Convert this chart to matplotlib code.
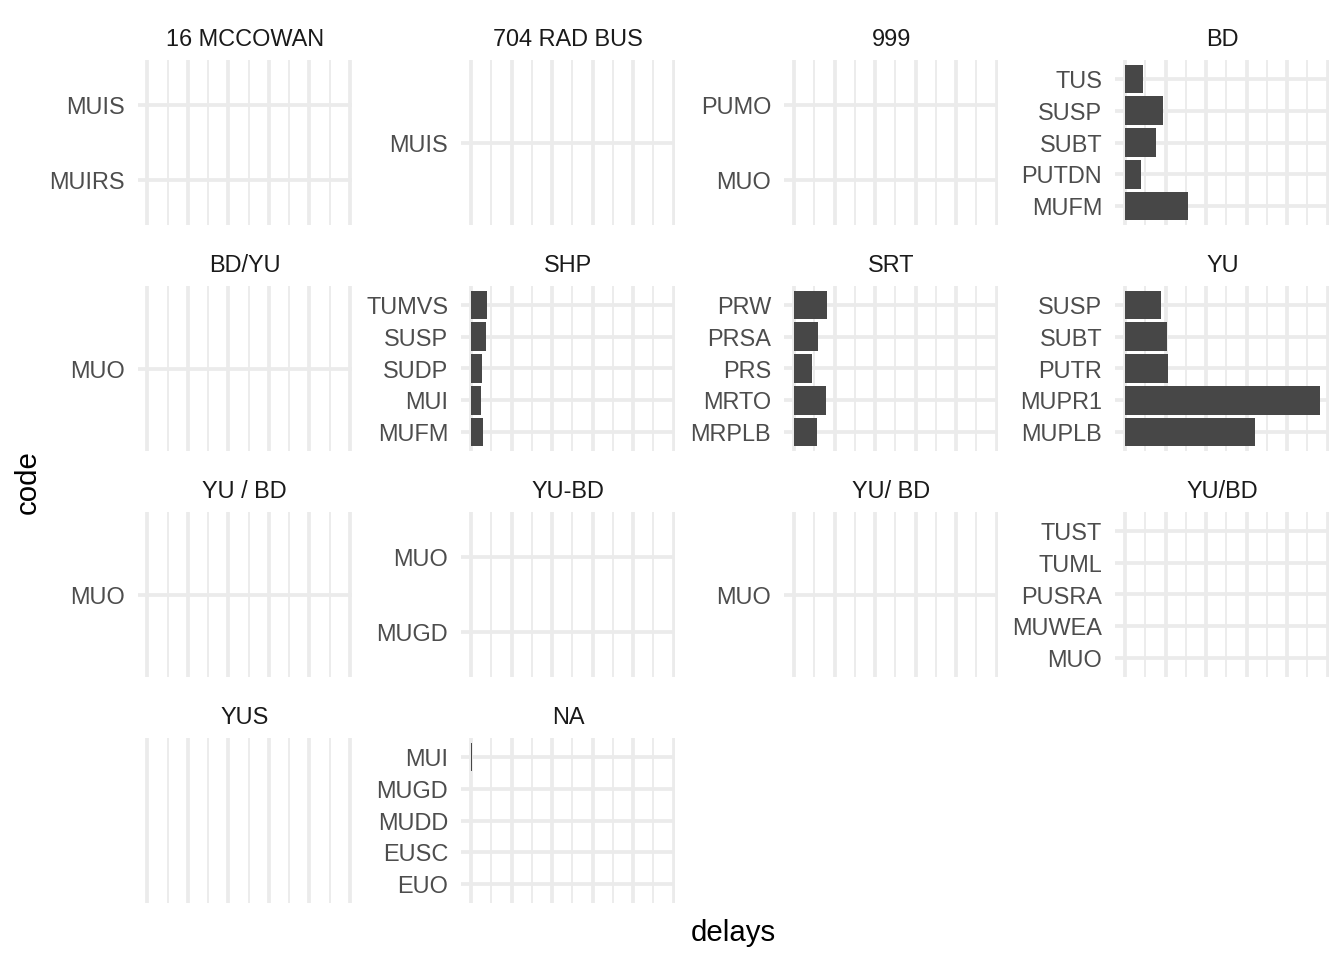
import matplotlib
matplotlib.use("Agg")
import matplotlib.pyplot as plt
import numpy as np

plt.rcParams['font.family'] = ['Liberation Sans', 'DejaVu Sans']

# one facet per line, codes sorted alphabetically (bottom to top)
lines = ["16 MCCOWAN", "704 RAD BUS", "999", "BD",
         "BD/YU", "SHP", "SRT", "YU",
         "YU / BD", "YU-BD", "YU/ BD", "YU/BD",
         "YUS", "NA"]
codes = [
    ["MUIRS", "MUIS"],
    ["MUIS"],
    ["MUO", "PUMO"],
    ["MUFM", "PUTDN", "SUBT", "SUSP", "TUS"],
    ["MUO"],
    ["MUFM", "MUI", "SUDP", "SUSP", "TUMVS"],
    ["MRPLB", "MRTO", "PRS", "PRSA", "PRW"],
    ["MUPLB", "MUPR1", "PUTR", "SUBT", "SUSP"],
    ["MUO"],
    ["MUGD", "MUO"],
    ["MUO"],
    ["MUO", "MUWEA", "PUSRA", "TUML", "TUST"],
    [],
    ["EUO", "EUSC", "MUDD", "MUGD", "MUI"],
]
delays = [
    [0, 0],
    [0],
    [0, 0],
    [309, 77, 151, 186, 87],
    [0],
    [59, 49, 54, 74, 79],
    [112, 156, 89, 117, 161],
    [640, 960, 210, 205, 176],
    [0],
    [0, 0],
    [0],
    [0, 0, 0, 0, 0],
    [],
    [0, 0, 0, 0, 4],
]

W, H = 1344, 960
fig = plt.figure(figsize=(7, 5), dpi=192)

col_left = [137.6, 461.3, 784.3, 1115.3]
row_top = [60, 286, 512, 738]
pw, ph = 214, 165

xmax = max(max(d) for d in delays if d)
xlim = (-0.05 * xmax, 1.05 * xmax)
major = np.arange(0, 1001, 200)
minor = np.arange(100, 1000, 200)

grid_c = "#EBEBEB"
for i, name in enumerate(lines):
    r, c = divmod(i, 4)
    x0, y0 = col_left[c], row_top[r]
    ax = fig.add_axes([x0 / W, 1 - (y0 + ph) / H, pw / W, ph / H])
    n = len(codes[i])
    ax.set_xlim(*xlim)
    if n:
        ax.set_ylim(0.4, n + 0.6)
    else:
        ax.set_ylim(0, 1)
    for v in major:
        ax.axvline(v, color=grid_c, lw=1.42, zorder=0)
    for v in minor:
        ax.axvline(v, color=grid_c, lw=0.71, zorder=0)
    pos = np.arange(1, n + 1)
    for p in pos:
        ax.axhline(p, color=grid_c, lw=1.42, zorder=0)
    if n:
        ax.barh(pos, delays[i], height=0.9, color="#474747", zorder=2)
    ax.set_yticks(pos)
    ax.set_yticklabels(codes[i])
    ax.set_xticks([])
    ax.tick_params(axis='y', length=0, pad=4.9, labelsize=8.8, labelcolor="#4D4D4D")
    for s in ax.spines.values():
        s.set_visible(False)
    fig.text((x0 + pw / 2) / W, 1 - (y0 - 20) / H, name, ha='center', va='center',
             fontsize=8.8, color="#1A1A1A")

fig.text(28 / W, 1 - 482 / H, "code", rotation=90, ha='center', va='center', fontsize=11)
fig.text(733 / W, 1 - 933 / H, "delays", ha='center', va='center', fontsize=11)

fig.savefig("out.png", dpi=192, facecolor="white")
